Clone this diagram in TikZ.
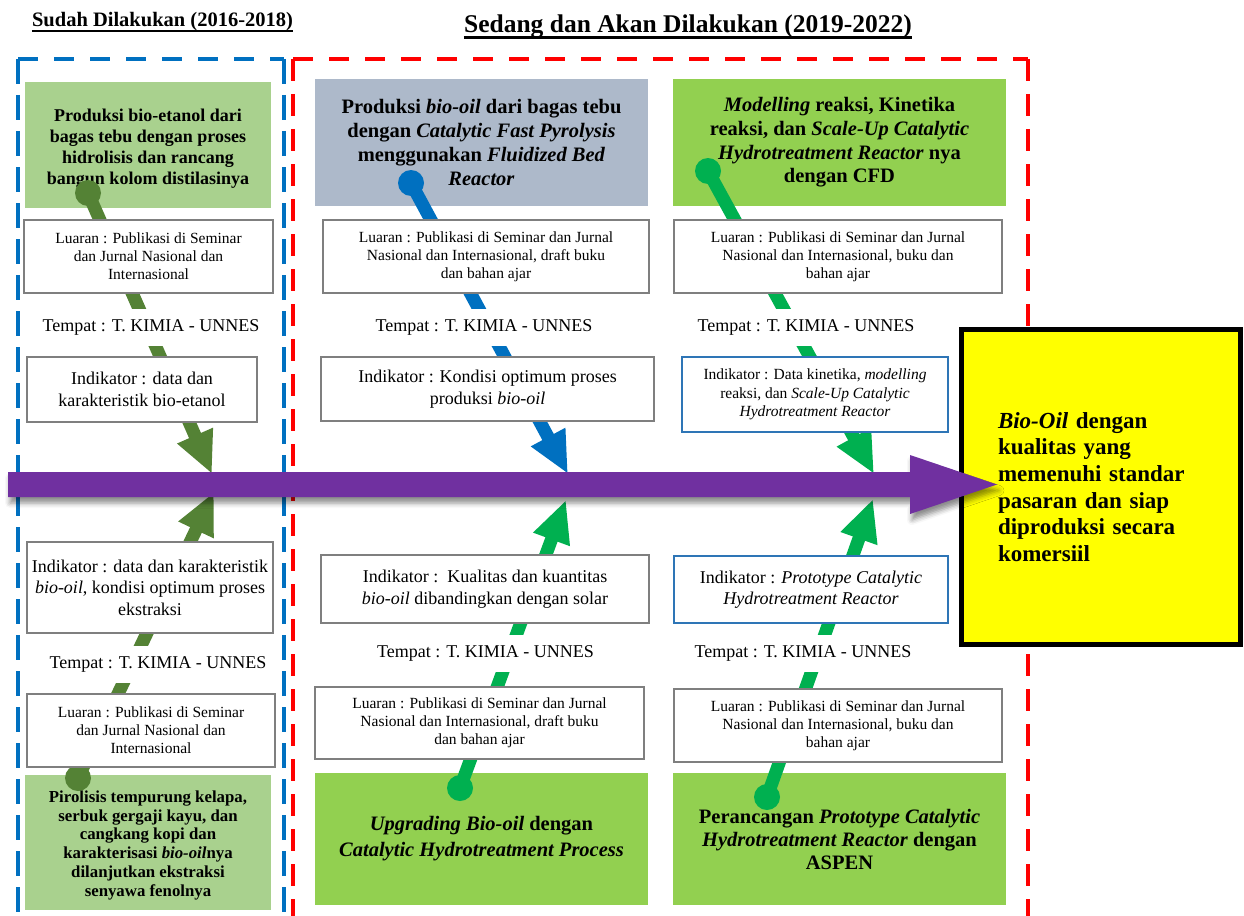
\documentclass[tikz,border=0pt]{standalone}
\usepackage{fontspec}
\setmainfont{Liberation Serif}
\usetikzlibrary{arrows.meta,shadows.blur}
\definecolor{dkgreen}{HTML}{548235}
\definecolor{ltgreen}{HTML}{A9D18E}
\definecolor{midgreen}{HTML}{92D050}
\definecolor{brgreen}{HTML}{00B050}
\definecolor{conblue}{HTML}{0070C0}
\definecolor{greyblue}{HTML}{ADB9CA}
\definecolor{boxgray}{HTML}{7F7F7F}
\definecolor{boxblue}{HTML}{2E75B6}
\definecolor{arrowpurple}{HTML}{7030A0}
\definecolor{frameblue}{HTML}{0070C0}
\definecolor{framered}{HTML}{FF0000}
\definecolor{goalyellow}{HTML}{FFFF00}
\begin{document}
\begin{tikzpicture}[x=1pt,y=-1pt,
  lbox/.style={draw=boxgray,line width=2.5pt,fill=white,inner sep=0pt,align=center,font=\fontsize{15.5}{18}\selectfont},
  ibox/.style={draw=boxgray,line width=2.5pt,fill=white,inner sep=0pt,align=center,font=\fontsize{18}{21.5}\selectfont},
  bibox/.style={draw=boxblue,line width=2.2pt,fill=white,inner sep=0pt,align=center},
  tempat/.style={fill=white,inner sep=0pt,minimum width=236pt,minimum height=37pt,font=\fontsize{18}{21}\selectfont},
  gbox/.style={inner sep=0pt,align=center,font=\bfseries\fontsize{20.5}{23.7}\selectfont},
  conn/.style={line width=13pt,-{Triangle[width=36pt,length=42pt]}},
  fblue/.style={draw=frameblue,line width=4pt},
  fred/.style={draw=framered,line width=4pt}]
\useasboundingbox (0,0) rectangle (1244,915);

% ---- dashed frames
\draw[fblue,dash pattern=on 20pt off 16pt] (18,59) -- (284,59);
\draw[fblue,dash pattern=on 25pt off 11pt] (18,59) -- (18,925);
\draw[fblue,dash pattern=on 25pt off 11pt] (284,59) -- (284,925);
\draw[fred,dash pattern=on 20pt off 16pt] (293,59) -- (1028,59);
\draw[fred,dash pattern=on 22pt off 13pt] (293,59) -- (293,925);
\draw[fred,dash pattern=on 22pt off 13pt] (1028,59) -- (1028,925);

% ---- coloured topic boxes
\node[gbox,fill=ltgreen,minimum width=246pt,minimum height=126pt,font=\bfseries\fontsize{18}{21}\selectfont] (g1) at (148,145)
  {\raisebox{-3.5pt}[\height][\depth]{\begin{tabular}{@{}c@{}}Produksi bio-etanol dari\\bagas tebu dengan proses\\hidrolisis dan rancang\\bangun kolom distilasinya\end{tabular}}};
\node[gbox,fill=ltgreen,minimum width=246pt,minimum height=135pt,font=\bfseries\fontsize{16.8}{18.7}\selectfont] (g2) at (148,842.5)
  {\raisebox{-3pt}[\height][\depth]{\begin{tabular}{@{}c@{}}Pirolisis tempurung kelapa,\\serbuk gergaji kayu, dan\\cangkang kopi dan\\karakterisasi \textit{bio-oil}nya\\dilanjutkan ekstraksi\\senyawa fenolnya\end{tabular}}};
\node[gbox,fill=greyblue,minimum width=333pt,minimum height=127pt] (g3) at (481.5,142.5)
  {Produksi \textit{bio-oil} dari bagas tebu\\dengan \textit{Catalytic Fast Pyrolysis}\\menggunakan \textit{Fluidized Bed}\\\textit{Reactor}};
\node[gbox,fill=midgreen,minimum width=333pt,minimum height=132pt,font=\bfseries\fontsize{20.5}{26}\selectfont] (g4) at (481.5,839)
  {\textit{Upgrading Bio-oil} dengan\\\textit{Catalytic Hydrotreatment Process}};
\node[gbox,fill=midgreen,minimum width=333pt,minimum height=127pt] (g5) at (839.5,142.5)
  {\textit{Modelling} reaksi, Kinetika\\reaksi, dan \textit{Scale-Up Catalytic}\\\textit{Hydrotreatment Reactor} nya\\dengan CFD};
\node[gbox,fill=midgreen,minimum width=333pt,minimum height=132pt,font=\bfseries\fontsize{20.5}{23}\selectfont] (g6) at (839.5,839)
  {Perancangan \textit{Prototype Catalytic}\\\textit{Hydrotreatment Reactor} dengan\\ASPEN};

% ---- connector end points
\coordinate (sTL) at (88,193);   \coordinate (eTL) at (212,474);
\coordinate (sBL) at (78,778);   \coordinate (eBL) at (214,492);
\coordinate (sTM) at (411,183);  \coordinate (eTM) at (568,474);
\coordinate (sBM) at (460,788);  \coordinate (eBM) at (566,500);
\coordinate (sTR) at (708,171);  \coordinate (eTR) at (874,474);
\coordinate (sBR) at (767,797);  \coordinate (eBR) at (873,499);

\draw[conn,dkgreen] (sTL) -- (eTL);  \fill[dkgreen] (sTL) circle (13);
\draw[conn,dkgreen] (sBL) -- (eBL);  \fill[dkgreen] (sBL) circle (13);
\draw[conn,conblue] (sTM) -- (eTM);  \fill[conblue] (sTM) circle (13);
\draw[conn,brgreen] (sBM) -- (eBM);  \fill[brgreen] (sBM) circle (13);
\draw[conn,brgreen] (sTR) -- (eTR);  \fill[brgreen] (sTR) circle (13);
\draw[conn,brgreen] (sBR) -- (eBR);  \fill[brgreen] (sBR) circle (13);

% ---- left column boxes
\node[lbox,minimum width=249pt,minimum height=73pt] (l1) at (148.5,256.5)
  {Luaran : Publikasi di Seminar\\dan Jurnal Nasional dan\\Internasional};
\node[tempat] (t1) at (151,327) {Tempat : T. KIMIA - UNNES};
\node[ibox,minimum width=230pt,minimum height=65pt] (i1) at (142,389.5)
  {Indikator : data dan\\karakteristik bio-etanol};
\node[ibox,minimum width=246pt,minimum height=91pt] (i2) at (150,587.5)
  {Indikator : data dan karakteristik\\\textit{bio-oil}, kondisi optimum proses\\ekstraksi};
\node[tempat] (t2) at (158,664) {Tempat : T. KIMIA - UNNES};
\node[lbox,minimum width=248pt,minimum height=73pt] (l2) at (151,730.5)
  {Luaran : Publikasi di Seminar\\dan Jurnal Nasional dan\\Internasional};

% ---- middle column boxes
\node[lbox,minimum width=326pt,minimum height=73pt] (l3) at (486,256.5)
  {Luaran : Publikasi di Seminar dan Jurnal\\Nasional dan Internasional, draft buku\\dan bahan ajar};
\node[tempat] (t3) at (484,327) {Tempat : T. KIMIA - UNNES};
\node[ibox,minimum width=333pt,minimum height=64pt] (i3) at (487.5,389)
  {Indikator : Kondisi optimum proses\\produksi \textit{bio-oil}};
\node[ibox,minimum width=328pt,minimum height=68pt] (i4) at (485,589)
  {Indikator :\ \ Kualitas dan kuantitas\\\textit{bio-oil} dibandingkan dengan solar};
\node[tempat] (t4) at (485.5,653) {Tempat : T. KIMIA - UNNES};
\node[lbox,minimum width=329pt,minimum height=72pt] (l4) at (479.5,723)
  {Luaran : Publikasi di Seminar dan Jurnal\\Nasional dan Internasional, draft buku\\dan bahan ajar};

% ---- right column boxes
\node[lbox,minimum width=328pt,minimum height=73pt] (l5) at (838,256.5)
  {Luaran : Publikasi di Seminar dan Jurnal\\Nasional dan Internasional, buku dan\\bahan ajar};
\node[tempat] (t5) at (806,327) {Tempat : T. KIMIA - UNNES};
\node[bibox,minimum width=266pt,minimum height=75pt,font=\fontsize{15.5}{18.7}\selectfont] (i5) at (815,394.5)
  {Indikator : Data kinetika, \textit{modelling}\\reaksi, dan \textit{Scale-Up Catalytic}\\\textit{Hydrotreatment Reactor}};
\node[bibox,minimum width=274pt,minimum height=67pt,font=\fontsize{18}{21}\selectfont] (i6) at (811,589.5)
  {Indikator : \textit{Prototype Catalytic}\\\textit{Hydrotreatment Reactor}};
\node[tempat] (t6) at (803,653) {Tempat : T. KIMIA - UNNES};
\node[lbox,minimum width=328pt,minimum height=73pt] (l6) at (838,725.5)
  {Luaran : Publikasi di Seminar dan Jurnal\\Nasional dan Internasional, buku dan\\bahan ajar};

% ---- goal box
\node[draw=black,line width=5pt,fill=goalyellow,inner sep=0pt,minimum width=279pt,minimum height=315pt,
      text width=206pt,align=left,font=\bfseries\fontsize{23}{26.6}\selectfont] (goal) at (1101,487)
  {\textit{Bio-Oil} dengan\\kualitas yang\\memenuhi standar\\pasaran dan siap\\diproduksi secara\\komersiil};

% ---- main purple arrow
\fill[arrowpurple,blur shadow={shadow xshift=2pt,shadow yshift=-6pt,shadow blur radius=5pt,shadow opacity=45}]
  (8,472) -- (910,472) -- (910,455) -- (997,484.5) -- (910,514) -- (910,497) -- (8,497) -- cycle;

% ---- titles
\node[anchor=base,inner sep=0pt,font=\bfseries\fontsize{20.5}{24}\selectfont] (title1) at (162.5,27) {Sudah Dilakukan (2016-2018)};
\draw[line width=2pt] ([yshift=-4.5pt]title1.base west) -- ([yshift=-4.5pt]title1.base east);
\node[anchor=base,inner sep=0pt,font=\bfseries\fontsize{25.5}{30}\selectfont] (title2) at (688,32.5) {Sedang dan Akan Dilakukan (2019-2022)};
\draw[line width=2.5pt] ([yshift=-5pt]title2.base west) -- ([yshift=-5pt]title2.base east);
\end{tikzpicture}
\end{document}
